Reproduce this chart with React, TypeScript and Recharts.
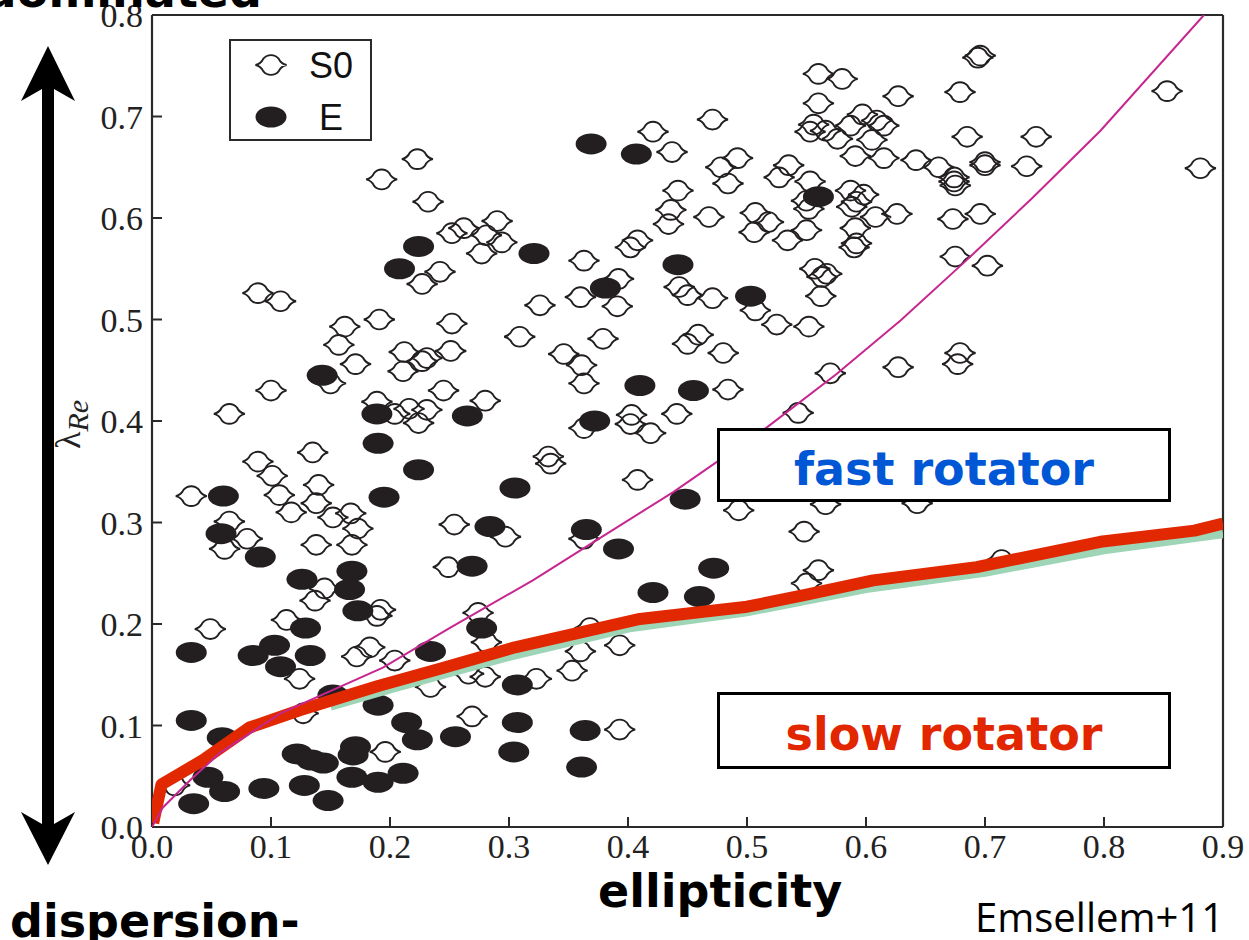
import { ScatterChart, Scatter, XAxis, YAxis, Legend } from "recharts";

// ellipticity vs lambda_Re
const S0_POINTS: [number, number][] = [
  [0.223, 0.658], [0.193, 0.638], [0.232, 0.616], [0.252, 0.585], [0.262, 0.59], [0.29, 0.597],
  [0.281, 0.583], [0.294, 0.576], [0.277, 0.565], [0.242, 0.547], [0.227, 0.535], [0.089, 0.526],
  [0.108, 0.518], [0.326, 0.514], [0.162, 0.493], [0.191, 0.5], [0.252, 0.496], [0.309, 0.483],
  [0.157, 0.475], [0.212, 0.468], [0.231, 0.462], [0.227, 0.459], [0.251, 0.469], [0.171, 0.456],
  [0.211, 0.449], [0.15, 0.437], [0.1, 0.43], [0.245, 0.43], [0.28, 0.42], [0.065, 0.407],
  [0.189, 0.419], [0.204, 0.407], [0.216, 0.412], [0.231, 0.411], [0.224, 0.398], [0.135, 0.369],
  [0.089, 0.36], [0.101, 0.346], [0.14, 0.337], [0.033, 0.326], [0.107, 0.327], [0.138, 0.319],
  [0.117, 0.31], [0.152, 0.305], [0.167, 0.309], [0.173, 0.294], [0.254, 0.298], [0.297, 0.286],
  [0.065, 0.301], [0.08, 0.284], [0.061, 0.274], [0.138, 0.278], [0.168, 0.278], [0.249, 0.256],
  [0.145, 0.235], [0.137, 0.223], [0.192, 0.214], [0.189, 0.208], [0.113, 0.204], [0.049, 0.195],
  [0.274, 0.211], [0.281, 0.182], [0.323, 0.146], [0.124, 0.146], [0.172, 0.168], [0.183, 0.177],
  [0.204, 0.164], [0.266, 0.151], [0.28, 0.148], [0.234, 0.138], [0.127, 0.112], [0.269, 0.109],
  [0.196, 0.074], [0.019, 0.041],
  [0.56, 0.742], [0.58, 0.737], [0.627, 0.72], [0.56, 0.713], [0.471, 0.697], [0.421, 0.685],
  [0.556, 0.692], [0.553, 0.685], [0.566, 0.686], [0.576, 0.678], [0.587, 0.691], [0.597, 0.702],
  [0.609, 0.696], [0.615, 0.691], [0.605, 0.677], [0.591, 0.661], [0.615, 0.659], [0.642, 0.657],
  [0.661, 0.65], [0.437, 0.665], [0.492, 0.659], [0.478, 0.65], [0.535, 0.652], [0.527, 0.64],
  [0.553, 0.636], [0.484, 0.634], [0.55, 0.617], [0.552, 0.609], [0.587, 0.627], [0.598, 0.623],
  [0.592, 0.616], [0.588, 0.611], [0.626, 0.604], [0.608, 0.601], [0.442, 0.627], [0.436, 0.608],
  [0.434, 0.594], [0.468, 0.601], [0.507, 0.605], [0.518, 0.596], [0.506, 0.586], [0.55, 0.588],
  [0.534, 0.578], [0.591, 0.59], [0.59, 0.571], [0.592, 0.575], [0.408, 0.578], [0.402, 0.571],
  [0.363, 0.558], [0.557, 0.55], [0.567, 0.545], [0.563, 0.542], [0.562, 0.523], [0.392, 0.54],
  [0.36, 0.522], [0.391, 0.513], [0.443, 0.532], [0.45, 0.524], [0.471, 0.521], [0.507, 0.509],
  [0.525, 0.495], [0.552, 0.493],
  [0.379, 0.481], [0.459, 0.485], [0.45, 0.476], [0.48, 0.467], [0.346, 0.466], [0.361, 0.455],
  [0.363, 0.437], [0.627, 0.453], [0.57, 0.447], [0.484, 0.431], [0.363, 0.393], [0.403, 0.406],
  [0.402, 0.397], [0.419, 0.388], [0.441, 0.407], [0.543, 0.408], [0.333, 0.365], [0.335, 0.358],
  [0.408, 0.342], [0.493, 0.312], [0.566, 0.318], [0.548, 0.291], [0.363, 0.284], [0.56, 0.253],
  [0.55, 0.24], [0.368, 0.196], [0.36, 0.173], [0.393, 0.179], [0.353, 0.154], [0.393, 0.096],
  [0.696, 0.76], [0.694, 0.758], [0.679, 0.724], [0.853, 0.725], [0.685, 0.68], [0.743, 0.68],
  [0.674, 0.64], [0.674, 0.636], [0.675, 0.632], [0.7, 0.655], [0.7, 0.652], [0.735, 0.651],
  [0.881, 0.649], [0.673, 0.599], [0.696, 0.604], [0.675, 0.562], [0.702, 0.553], [0.679, 0.467],
  [0.677, 0.456], [0.714, 0.263], [0.643, 0.319],
];

const E_POINTS: [number, number][] = [
  [0.224, 0.572], [0.208, 0.55], [0.321, 0.565], [0.143, 0.445], [0.189, 0.407], [0.265, 0.405],
  [0.19, 0.378], [0.224, 0.352], [0.305, 0.334], [0.06, 0.326], [0.195, 0.325], [0.284, 0.296],
  [0.058, 0.289], [0.091, 0.266], [0.269, 0.257], [0.126, 0.244], [0.168, 0.252], [0.166, 0.234],
  [0.173, 0.213], [0.129, 0.196], [0.277, 0.196], [0.033, 0.172], [0.085, 0.169], [0.103, 0.179],
  [0.108, 0.158], [0.133, 0.169], [0.234, 0.173], [0.307, 0.14], [0.152, 0.13], [0.19, 0.12],
  [0.033, 0.105], [0.059, 0.088], [0.214, 0.103], [0.223, 0.086], [0.255, 0.089], [0.307, 0.103],
  [0.304, 0.074], [0.122, 0.072], [0.144, 0.063], [0.134, 0.066], [0.171, 0.079], [0.169, 0.071],
  [0.168, 0.049], [0.19, 0.044], [0.211, 0.053], [0.047, 0.049], [0.061, 0.035], [0.035, 0.023],
  [0.094, 0.038], [0.128, 0.041], [0.148, 0.026], [0.369, 0.673], [0.407, 0.663], [0.56, 0.621],
  [0.442, 0.554], [0.381, 0.531], [0.503, 0.523], [0.41, 0.435], [0.455, 0.43], [0.372, 0.4],
  [0.448, 0.323], [0.365, 0.293], [0.392, 0.274], [0.472, 0.255], [0.421, 0.231], [0.46, 0.227],
  [0.364, 0.095], [0.361, 0.059],
];

// slow / fast rotator dividing lines
const SLOW_LINE: [number, number][] = [
  [0.001, 0.004], [0.008, 0.042], [0.043, 0.066], [0.082, 0.098], [0.124, 0.115], [0.19, 0.139],
  [0.242, 0.156], [0.305, 0.177], [0.41, 0.205], [0.5, 0.217], [0.55, 0.229], [0.606, 0.243],
  [0.693, 0.256], [0.797, 0.281], [0.876, 0.292], [0.9, 0.299],
];
const GREEN_LINE: [number, number][] = [
  [0.15, 0.119], [0.2, 0.136], [0.3, 0.168], [0.4, 0.196], [0.5, 0.212], [0.6, 0.235],
  [0.7, 0.251], [0.8, 0.273], [0.9, 0.289],
];
const EDGE_ON_LINE: [number, number][] = [
  [0, 0], [0.009, 0.019], [0.032, 0.046], [0.057, 0.073], [0.108, 0.112], [0.194, 0.157],
  [0.25, 0.196], [0.32, 0.243], [0.366, 0.277], [0.438, 0.33], [0.517, 0.394], [0.575, 0.446],
  [0.629, 0.499], [0.685, 0.559], [0.74, 0.62], [0.797, 0.686], [0.884, 0.8],
];

const X_TICKS = [0, 0.1, 0.2, 0.3, 0.4, 0.5, 0.6, 0.7, 0.8, 0.9];
const Y_TICKS = [0, 0.1, 0.2, 0.3, 0.4, 0.5, 0.6, 0.7, 0.8];

const LEGEND_ITEMS = [
  { name: "S0", kind: "s0" },
  { name: "E", kind: "e" },
];

const INK = "#231f20";
const FRAME = "#2a2a2a";
const TICK_FONT = "'Liberation Serif', serif";
const BOLD_FONT = "'DejaVu Sans', sans-serif";
const TICK_LEN = -10; // negative -> ticks point into the plot

const toXY = (pts: [number, number][]) => pts.map(([x, y]) => ({ x, y }));

// lens-like open symbol used for S0
const S0_D =
  "M -15.5 0 Q -10 -1.2 -7.6 -6.4 A 10 10 0 0 1 7.6 -6.4 Q 10 -1.2 15.5 0 Q 10 1.2 7.6 6.4 A 10 10 0 0 1 -7.6 6.4 Q -10 1.2 -15.5 0 Z";

function S0Mark({ cx, cy }: any) {
  return <path d={S0_D} transform={`translate(${cx},${cy})`} fill="none" stroke={INK} strokeWidth={1.9} />;
}

function EMark({ cx, cy }: any) {
  return <ellipse cx={cx} cy={cy} rx={15.5} ry={10.5} fill={INK} />;
}

const NoDot = () => <g />;

// tick label positions are given at the inner end of the (inward) tick line
function BottomLabel({ x, y, payload }: any) {
  return (
    <text x={x} y={y + 41} textAnchor="middle" fontFamily={TICK_FONT} fontSize={34} fill="#222">
      {payload.value.toFixed(1)}
    </text>
  );
}

function LeftLabel({ x, y, payload }: any) {
  return (
    <text x={x - 19} y={y + 12} textAnchor="end" fontFamily={TICK_FONT} fontSize={34} fill="#222">
      {payload.value.toFixed(1)}
    </text>
  );
}

const NoLabel = () => <g />;

const axisLine = { stroke: FRAME, strokeWidth: 2.2 };
const tickLine = { stroke: FRAME, strokeWidth: 2 };

function LegendBox() {
  return (
    <svg width={143} height={102}>
      <rect x={1} y={1} width={141} height={100} fill="#fff" stroke={FRAME} strokeWidth={2} />
      {LEGEND_ITEMS.map((item, i) => {
        const cy = 26 + i * 52;
        return (
          <g key={item.name}>
            {item.kind === "s0" ? <S0Mark cx={42} cy={cy} /> : <EMark cx={42} cy={cy} />}
            <text x={102} y={cy + 13} textAnchor="middle" fontFamily="'Liberation Sans', sans-serif" fontSize={36} fill="#111">
              {item.name}
            </text>
          </g>
        );
      })}
    </svg>
  );
}

export default function App() {
  return (
    <div style={{ position: "absolute", left: 0, top: 0, width: 1249, height: 940, background: "#fff", overflow: "hidden" }}>
      <ScatterChart width={1249} height={940} margin={{ top: 14, right: 25, bottom: 112, left: 151 }}>
        <XAxis
          type="number"
          dataKey="x"
          domain={[0, 0.9]}
          ticks={X_TICKS}
          interval={0}
          height={1}
          tickSize={TICK_LEN}
          tickMargin={0}
          tickLine={tickLine}
          tick={<BottomLabel />}
          axisLine={axisLine}
          allowDataOverflow
        />
        <XAxis
          xAxisId="top"
          orientation="top"
          type="number"
          domain={[0, 0.9]}
          ticks={X_TICKS}
          interval={0}
          height={1}
          tickSize={TICK_LEN}
          tickMargin={0}
          tickLine={tickLine}
          tick={<NoLabel />}
          axisLine={axisLine}
        />
        <YAxis
          type="number"
          dataKey="y"
          domain={[0, 0.8]}
          ticks={Y_TICKS}
          interval={0}
          width={1}
          tickSize={TICK_LEN}
          tickMargin={0}
          tickLine={tickLine}
          tick={<LeftLabel />}
          axisLine={axisLine}
          allowDataOverflow
        />
        <YAxis
          yAxisId="right"
          orientation="right"
          type="number"
          domain={[0, 0.8]}
          ticks={Y_TICKS}
          interval={0}
          width={1}
          tickSize={TICK_LEN}
          tickMargin={0}
          tickLine={tickLine}
          tick={<NoLabel />}
          axisLine={axisLine}
        />
        <Legend
          layout="vertical"
          align="center"
          verticalAlign="middle"
          content={() => <LegendBox />}
          wrapperStyle={{ left: 229, top: 39, width: 143, height: 102, lineHeight: 0 }}
        />
        <Scatter name="S0" data={toXY(S0_POINTS)} shape={S0Mark} isAnimationActive={false} />
        <Scatter name="E" data={toXY(E_POINTS)} shape={EMark} isAnimationActive={false} />
        <Scatter
          name="model"
          data={toXY(GREEN_LINE)}
          line={{ stroke: "#9dd5b6", strokeWidth: 9 }}
          shape={NoDot}
          legendType="none"
          isAnimationActive={false}
        />
        <Scatter
          name="slow"
          data={toXY(SLOW_LINE)}
          line={{ stroke: "#e22800", strokeWidth: 12, strokeLinejoin: "round" }}
          shape={NoDot}
          legendType="none"
          isAnimationActive={false}
        />
        <Scatter
          name="edge-on"
          data={toXY(EDGE_ON_LINE)}
          line={{ stroke: "#c6268f", strokeWidth: 2 }}
          shape={NoDot}
          legendType="none"
          isAnimationActive={false}
        />
      </ScatterChart>

      <svg width={1249} height={940} style={{ position: "absolute", left: 0, top: 0, pointerEvents: "none" }}>
        {/* double arrow on the left */}
        <polygon points="48,46 75,101 54,89 54,824 75,812 48,865 21,812 42,824 42,89 21,101" fill="#000" />
        <text transform="translate(80,449) rotate(-90)" fontFamily={TICK_FONT} fontSize={36} fill="#222">
          λ
          <tspan dy={8} fontStyle="italic" fontSize={30}>Re</tspan>
        </text>

        <text x={262} y={7} textAnchor="end" fontFamily={BOLD_FONT} fontWeight="bold" fontSize={46} fill="#000">
          dominated
        </text>
        <text x={10} y={937} fontFamily={BOLD_FONT} fontWeight="bold" fontSize={46} fill="#000">
          dispersion-
        </text>
        <text x={598} y={907} fontFamily={BOLD_FONT} fontWeight="bold" fontSize={46} fill="#000">
          ellipticity
        </text>
        <text x={975} y={932} fontFamily="'Open Sans', sans-serif" fontSize={40} fill="#000">
          Emsellem+11
        </text>

        <rect x={718.5} y={429.5} width={451} height={71} fill="#fff" stroke="#000" strokeWidth={3} />
        <text x={944} y={485} textAnchor="middle" fontFamily={BOLD_FONT} fontWeight="bold" fontSize={46} fill="#0057d6">
          fast rotator
        </text>
        <rect x={718.5} y={693.5} width={451} height={74} fill="#fff" stroke="#000" strokeWidth={3} />
        <text x={944} y={750} textAnchor="middle" fontFamily={BOLD_FONT} fontWeight="bold" fontSize={46} fill="#e12600">
          slow rotator
        </text>
      </svg>
    </div>
  );
}
